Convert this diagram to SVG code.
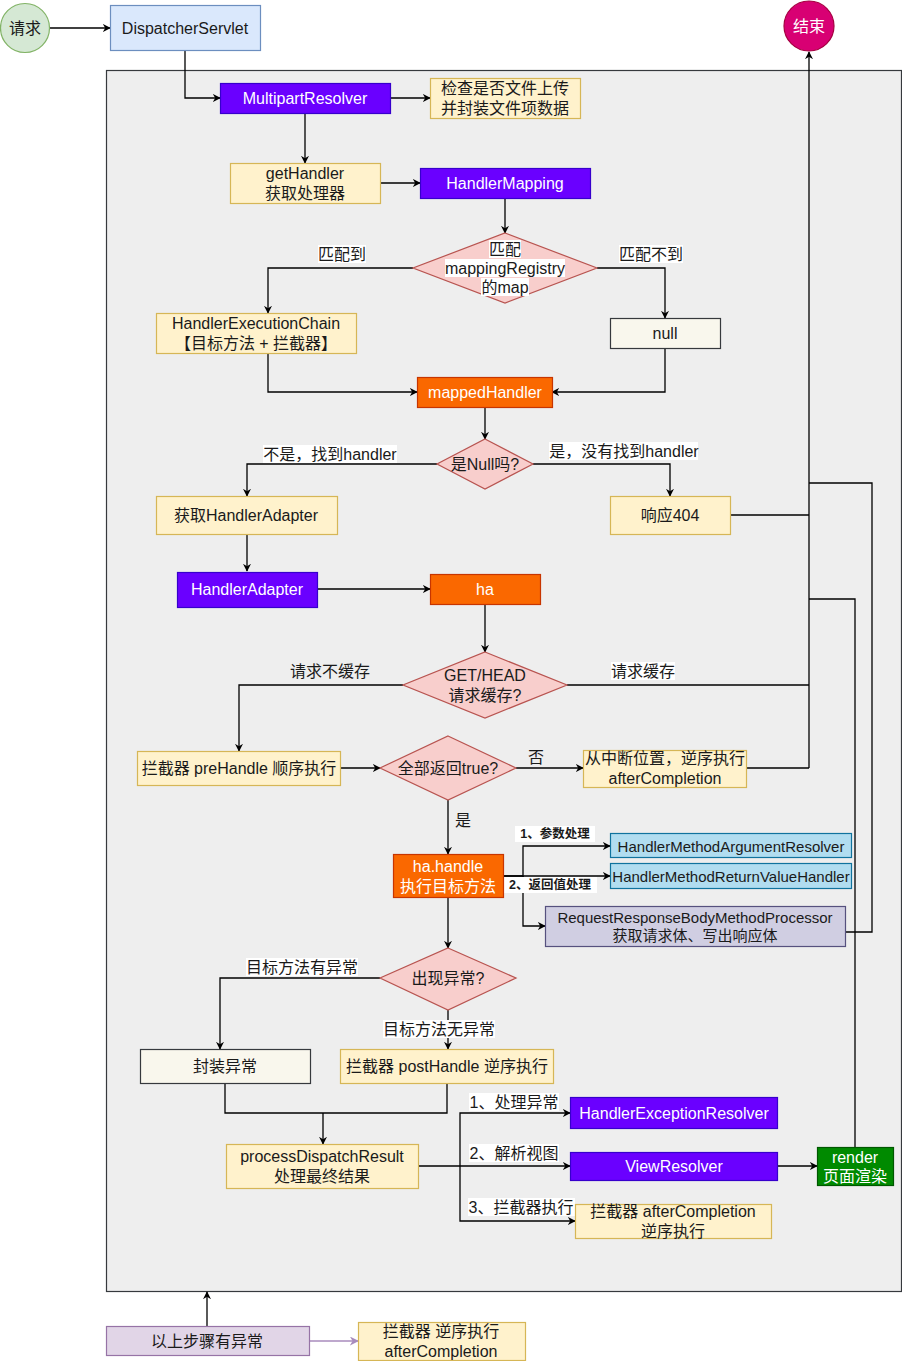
<svg xmlns="http://www.w3.org/2000/svg" width="902" height="1361" viewBox="0 0 902 1361">
  <style>
    text { font-family: "Liberation Sans", "Noto Sans CJK SC", sans-serif; font-size: 16px; fill: #1a1a1a; text-anchor: middle; dominant-baseline: central; }
    .w { fill: #ffffff; }
    .s15 { font-size: 15px; }
    .lbl { font-size: 15px; }
    .bold { font-size: 12.5px; font-weight: bold; }
    .edge { fill: none; stroke: #000000; stroke-width: 1.3; }
    .edge-a { fill: none; stroke: #000000; stroke-width: 1.3; marker-end: url(#arr); }
    .edge-p { fill: none; stroke: #a88bbd; stroke-width: 1.3; marker-end: url(#arrp); }
    .lblbg { fill: #ffffff; }
    .yellow { fill: #fff2cc; stroke: #d6b656; stroke-width: 1.2; }
    .purple { fill: #6a00ff; stroke: #3700cc; stroke-width: 1.2; }
    .orange { fill: #fa6800; stroke: #c73500; stroke-width: 1.2; }
    .pink { fill: #f8cecc; stroke: #b85450; stroke-width: 1.2; }
    .plain { fill: #f9f7ed; stroke: #36393d; stroke-width: 1.2; }
    .blue { fill: #b1ddf0; stroke: #10739e; stroke-width: 1.2; }
    .lav { fill: #d0cee2; stroke: #56517e; stroke-width: 1.2; }
  </style>
  <defs>
    <marker id="arr" viewBox="0 0 10 10" refX="9" refY="5" markerWidth="8" markerHeight="8" markerUnits="userSpaceOnUse" orient="auto">
      <path d="M0,0 L10,5 L0,10 L3,5 z" fill="#000000"/>
    </marker>
    <marker id="arrp" viewBox="0 0 10 10" refX="9" refY="5" markerWidth="9" markerHeight="9" markerUnits="userSpaceOnUse" orient="auto">
      <path d="M0,0 L10,5 L0,10 L3,5 z" fill="#a88bbd"/>
    </marker>
  </defs>

  <!-- frame around the dispatch steps -->
  <rect id="frame" x="106.5" y="70.5" width="795" height="1221" fill="#eeeeee" stroke="#36393d" stroke-width="1.2"/>

  <!-- connectors -->
  <g id="connectors">
    <path class="edge-a" d="M50,28 H110"/>
    <path class="edge-a" d="M185,50 V98 H220"/>
    <path class="edge-a" d="M390,98 H430"/>
    <path class="edge-a" d="M305,113 V163"/>
    <path class="edge-a" d="M380,183 H420"/>
    <path class="edge-a" d="M505,198 V233"/>
    <path class="edge-a" d="M413,268 H268 V313"/>
    <path class="edge-a" d="M597,268 H665 V318"/>
    <path class="edge-a" d="M268,353 V392 H417"/>
    <path class="edge-a" d="M665,348 V392 H552"/>
    <path class="edge-a" d="M485,407 V439"/>
    <path class="edge-a" d="M437,464 H247 V496"/>
    <path class="edge-a" d="M533,464 H670 V496"/>
    <path class="edge" d="M730,515 H809"/>
    <path class="edge-a" d="M809,768 V52"/>
    <path class="edge-a" d="M247,534 V571"/>
    <path class="edge-a" d="M317,589 H430"/>
    <path class="edge-a" d="M485,604 V652"/>
    <path class="edge-a" d="M403,685 H239 V751"/>
    <path class="edge" d="M567,685 H809"/>
    <path class="edge-a" d="M340,768 H380"/>
    <path class="edge-a" d="M516,768 H583"/>
    <path class="edge" d="M746,768 H809"/>
    <path class="edge-a" d="M448,800 V854"/>
    <path class="edge-a" d="M503,876 H523 V846 H610"/>
    <path class="edge-a" d="M503,876 H610"/>
    <path class="edge-a" d="M523,876 V926 H545"/>
    <path class="edge" d="M845,932 H872 V483 H809"/>
    <path class="edge-a" d="M448,897 V948"/>
    <path class="edge-a" d="M380,978 H220 V1049"/>
    <path class="edge-a" d="M448,1010 V1049"/>
    <path class="edge" d="M225,1083 V1113 H447 V1083"/>
    <path class="edge-a" d="M323,1113 V1144"/>
    <path class="edge" d="M418,1166 H460"/>
    <path class="edge-a" d="M460,1166 V1113 H570"/>
    <path class="edge-a" d="M460,1166 H570"/>
    <path class="edge-a" d="M460,1166 V1221 H575"/>
    <path class="edge-a" d="M777,1166 H817"/>
    <path class="edge" d="M855,1147 V599 H809"/>
    <path class="edge-a" d="M207,1326 V1292"/>
    <path class="edge-p" d="M309,1341 H358"/>
  </g>

  <!-- connector labels -->
  <g id="labels">
    <rect class="lblbg" x="318" y="245" width="48" height="18"/>
    <text x="342" y="254">匹配到</text>
    <rect class="lblbg" x="619" y="245" width="64" height="18"/>
    <text x="651" y="254">匹配不到</text>
    <rect class="lblbg" x="263" y="445" width="134" height="18"/>
    <text x="330" y="454">不是，找到handler</text>
    <rect class="lblbg" x="549" y="442" width="149" height="18"/>
    <text x="624" y="451">是，没有找到handler</text>
    <text x="330" y="671">请求不缓存</text>
    <rect class="lblbg" x="611" y="662" width="64" height="18"/>
    <text x="643" y="671">请求缓存</text>
    <text x="536" y="757">否</text>
    <text x="463" y="820">是</text>
    <rect class="lblbg" x="515" y="826" width="80" height="16"/>
    <text class="bold" x="555" y="834">1、参数处理</text>
    <rect class="lblbg" x="503" y="877" width="94" height="16"/>
    <text class="bold" x="550" y="885">2、返回值处理</text>
    <rect class="lblbg" x="246" y="958" width="112" height="18"/>
    <text x="302" y="967">目标方法有异常</text>
    <rect class="lblbg" x="383" y="1020" width="112" height="18"/>
    <text x="439" y="1029">目标方法无异常</text>
    <rect class="lblbg" x="469" y="1093" width="90" height="18"/>
    <text x="514" y="1102">1、处理异常</text>
    <rect class="lblbg" x="469" y="1144" width="90" height="18"/>
    <text x="514" y="1153">2、解析视图</text>
    <rect class="lblbg" x="468" y="1198" width="107" height="18"/>
    <text x="521" y="1207">3、拦截器执行</text>
  </g>

  <!-- nodes -->
  <g id="request">
    <circle cx="25" cy="28" r="24.5" fill="#d5e8d4" stroke="#82b366" stroke-width="1.2"/>
    <text x="25" y="28">请求</text>
  </g>
  <g id="dispatcher-servlet">
    <rect x="110.5" y="5.5" width="150" height="45" fill="#dae8fc" stroke="#6c8ebf" stroke-width="1.2"/>
    <text x="185" y="28">DispatcherServlet</text>
  </g>
  <g id="end">
    <circle cx="809" cy="26" r="25" fill="#d80073" stroke="#a50040" stroke-width="1.2"/>
    <text class="w" x="809" y="26">结束</text>
  </g>
  <g id="multipart-resolver">
    <rect class="purple" x="220.5" y="83.5" width="170" height="30"/>
    <text class="w" x="305" y="98">MultipartResolver</text>
  </g>
  <g id="multipart-note">
    <rect class="yellow" x="430.5" y="78.5" width="150" height="40"/>
    <text x="505" y="88">检查是否文件上传</text>
    <text x="505" y="108">并封装文件项数据</text>
  </g>
  <g id="get-handler">
    <rect class="yellow" x="230.5" y="163.5" width="150" height="40"/>
    <text x="305" y="173">getHandler</text>
    <text x="305" y="193">获取处理器</text>
  </g>
  <g id="handler-mapping">
    <rect class="purple" x="420.5" y="168.5" width="170" height="30"/>
    <text class="w" x="505" y="183">HandlerMapping</text>
  </g>
  <g id="match-registry">
    <polygon class="pink" points="505,233 597,268 505,303 413,268"/>
    <rect class="lblbg" x="489" y="240" width="32" height="18"/>
    <rect class="lblbg" x="445" y="259" width="120" height="18"/>
    <rect class="lblbg" x="481" y="278" width="48" height="18"/>
    <text x="505" y="249">匹配</text>
    <text x="505" y="268">mappingRegistry</text>
    <text x="505" y="287">的map</text>
  </g>
  <g id="handler-execution-chain">
    <rect class="yellow" x="156.5" y="313.5" width="200" height="40"/>
    <text x="256" y="323">HandlerExecutionChain</text>
    <text x="256" y="343">【目标方法 + 拦截器】</text>
  </g>
  <g id="null">
    <rect class="plain" x="610.5" y="318.5" width="110" height="30"/>
    <text x="665" y="333">null</text>
  </g>
  <g id="mapped-handler">
    <rect class="orange" x="417.5" y="377.5" width="135" height="30"/>
    <text class="w" x="485" y="392">mappedHandler</text>
  </g>
  <g id="is-null">
    <polygon class="pink" points="485,439 533,464 485,489 437,464"/>
    <text x="485" y="464">是Null吗?</text>
  </g>
  <g id="get-handler-adapter">
    <rect class="yellow" x="156.5" y="496.5" width="181" height="38"/>
    <text x="246" y="515">获取HandlerAdapter</text>
  </g>
  <g id="response-404">
    <rect class="yellow" x="610.5" y="496.5" width="120" height="38"/>
    <text x="670" y="515">响应404</text>
  </g>
  <g id="handler-adapter">
    <rect class="purple" x="177.5" y="572.5" width="140" height="35"/>
    <text class="w" x="247" y="589">HandlerAdapter</text>
  </g>
  <g id="ha">
    <rect class="orange" x="430.5" y="574.5" width="110" height="30"/>
    <text class="w" x="485" y="589">ha</text>
  </g>
  <g id="cache-check">
    <polygon class="pink" points="485,652 567,685 485,718 403,685"/>
    <text x="485" y="675">GET/HEAD</text>
    <text x="485" y="695">请求缓存?</text>
  </g>
  <g id="pre-handle">
    <rect class="yellow" x="137.5" y="751.5" width="203" height="34"/>
    <text x="239" y="768">拦截器 preHandle 顺序执行</text>
  </g>
  <g id="all-true">
    <polygon class="pink" points="448,736 516,768 448,800 380,768"/>
    <text x="448" y="768">全部返回true?</text>
  </g>
  <g id="reverse-after-completion">
    <rect class="yellow" x="583.5" y="750.5" width="163" height="37"/>
    <text x="665" y="758">从中断位置，逆序执行</text>
    <text x="665" y="778">afterCompletion</text>
  </g>
  <g id="ha-handle">
    <rect class="orange" x="393.5" y="854.5" width="110" height="43"/>
    <text class="w" x="448" y="866">ha.handle</text>
    <text class="w" x="448" y="886">执行目标方法</text>
  </g>
  <g id="argument-resolver">
    <rect class="blue" x="610.5" y="833.5" width="241" height="24"/>
    <text class="s15" x="731" y="846">HandlerMethodArgumentResolver</text>
  </g>
  <g id="return-value-handler">
    <rect class="blue" x="610.5" y="863.5" width="241" height="25"/>
    <text class="s15" x="731" y="876">HandlerMethodReturnValueHandler</text>
  </g>
  <g id="body-processor">
    <rect class="lav" x="545.5" y="906.5" width="300" height="40"/>
    <text class="s15" x="695" y="917">RequestResponseBodyMethodProcessor</text>
    <text class="s15" x="695" y="935">获取请求体、写出响应体</text>
  </g>
  <g id="has-exception">
    <polygon class="pink" points="448,948 516,978 448,1010 380,978"/>
    <text x="448" y="978">出现异常?</text>
  </g>
  <g id="wrap-exception">
    <rect class="plain" x="140.5" y="1049.5" width="170" height="34"/>
    <text x="225" y="1066">封装异常</text>
  </g>
  <g id="post-handle">
    <rect class="yellow" x="340.5" y="1049.5" width="213" height="34"/>
    <text x="447" y="1066">拦截器 postHandle 逆序执行</text>
  </g>
  <g id="process-dispatch-result">
    <rect class="yellow" x="226.5" y="1144.5" width="192" height="44"/>
    <text x="322" y="1156">processDispatchResult</text>
    <text x="322" y="1176">处理最终结果</text>
  </g>
  <g id="exception-resolver">
    <rect class="purple" x="570.5" y="1097.5" width="207" height="31"/>
    <text class="w" x="674" y="1113">HandlerExceptionResolver</text>
  </g>
  <g id="view-resolver">
    <rect class="purple" x="570.5" y="1152.5" width="207" height="28"/>
    <text class="w" x="674" y="1166">ViewResolver</text>
  </g>
  <g id="after-completion">
    <rect class="yellow" x="575.5" y="1204.5" width="196" height="34"/>
    <text x="673" y="1211">拦截器 afterCompletion</text>
    <text x="673" y="1231">逆序执行</text>
  </g>
  <g id="render">
    <rect x="817.5" y="1147.5" width="76" height="38" fill="#008a00" stroke="#005700" stroke-width="1.2"/>
    <text class="w" x="855" y="1157">render</text>
    <text class="w" x="855" y="1176">页面渲染</text>
  </g>
  <g id="error-above">
    <rect x="106.5" y="1326.5" width="203" height="29" fill="#e1d5e7" stroke="#9673a6" stroke-width="1.2"/>
    <text x="207" y="1341">以上步骤有异常</text>
  </g>
  <g id="error-after-completion">
    <rect class="yellow" x="358.5" y="1322.5" width="167" height="38"/>
    <text x="441" y="1331">拦截器 逆序执行</text>
    <text x="441" y="1351">afterCompletion</text>
  </g>
</svg>
